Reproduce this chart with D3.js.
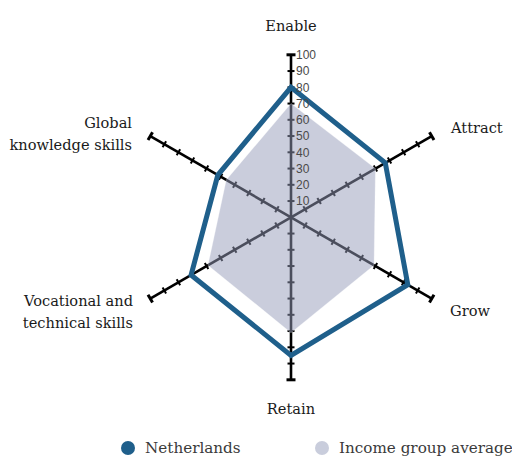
<!DOCTYPE html>
<html>
<head>
<meta charset="utf-8">
<script src="https://cdn.jsdelivr.net/npm/d3@7"></script>
<style>
  html, body { margin: 0; padding: 0; background: #fff; }
  svg { display: block; }
</style>
</head>
<body>
<svg id="chart" width="512" height="457"></svg>
<script>
// Pillars of the radar, clockwise from the top
const axes = ["Enable", "Attract", "Grow", "Retain", "Vocational and technical skills", "Global knowledge skills"];
const netherlands = [80, 67, 83, 85, 71, 52];
const incomeGroupAverage = [70, 60, 59, 71, 59, 46];
const tickValues = [10, 20, 30, 40, 50, 60, 70, 80, 90, 100];
const seriesNames = ["Netherlands", "Income group average"];

const W = 512, H = 457;
const cx = 291, cy = 217.3, R = 162.5;
const blue = "#1f5f8b";
const greyFill = "rgb(150,156,186)";

const svg = d3.select("#chart");
const r = d3.scaleLinear().domain([0, 100]).range([0, R]);
const angle = d3.scaleLinear().domain([0, axes.length]).range([0, 2 * Math.PI]);

function pt(i, v) {
  const a = angle(i) - Math.PI / 2;
  return [cx + r(v) * Math.cos(a), cy + r(v) * Math.sin(a)];
}

// Axis spokes with tick marks
const axisG = svg.append("g");
axes.forEach((name, i) => {
  const a = angle(i) - Math.PI / 2;
  const [x1, y1] = pt(i, 100);
  axisG.append("line")
    .attr("x1", cx).attr("y1", cy).attr("x2", x1).attr("y2", y1)
    .attr("stroke", "#000").attr("stroke-width", 2.6);
  const px = -Math.sin(a), py = Math.cos(a);
  tickValues.forEach(t => {
    const [tx, ty] = pt(i, t);
    const h = t === 100 ? 4.5 : 3.5;
    axisG.append("line")
      .attr("x1", tx - px * h).attr("y1", ty - py * h)
      .attr("x2", tx + px * h).attr("y2", ty + py * h)
      .attr("stroke", "#000").attr("stroke-width", t === 100 ? 3 : 2);
  });
});

const line = d3.line().curve(d3.curveLinearClosed);

// Income group average: translucent area
svg.append("path")
  .attr("d", line(incomeGroupAverage.map((v, i) => pt(i, v))))
  .attr("fill", greyFill).attr("fill-opacity", 0.5)
  .attr("stroke", "#fff").attr("stroke-opacity", 0.25).attr("stroke-width", 1);

// Netherlands: outline
svg.append("path")
  .attr("d", line(netherlands.map((v, i) => pt(i, v))))
  .attr("fill", "none").attr("stroke", blue).attr("stroke-width", 5)
  .attr("stroke-linejoin", "miter");

// Radial scale labels along the top spoke
svg.append("g").selectAll("text").data(tickValues).join("text")
  .attr("x", cx + 5)
  .attr("y", d => cy - r(d))
  .attr("dy", "0.35em")
  .attr("font-family", "Liberation Sans, Arial, sans-serif")
  .attr("font-size", 12)
  .attr("fill", "#4a4a4a")
  .text(d => d);

// Pillar labels
const labelFont = "DejaVu Serif, serif";
const labels = [
  { lines: ["Enable"], x: 291, y: 31, anchor: "middle" },
  { lines: ["Attract"], x: 451, y: 133, anchor: "start" },
  { lines: ["Grow"], x: 450, y: 316, anchor: "start" },
  { lines: ["Retain"], x: 291, y: 414, anchor: "middle" },
  { lines: ["Vocational and", "technical skills"], x: 133, y: 306, anchor: "end" },
  { lines: ["Global", "knowledge skills"], x: 132, y: 128, anchor: "end" }
];
labels.forEach(l => {
  const t = svg.append("text")
    .attr("x", l.x).attr("y", l.y)
    .attr("text-anchor", l.anchor)
    .attr("font-family", labelFont).attr("font-size", 14.6)
    .attr("fill", "#1a1a1a");
  l.lines.forEach((s, k) => {
    t.append("tspan").attr("x", l.x).attr("dy", k === 0 ? 0 : 22).text(s);
  });
});

// Legend
const legend = svg.append("g");
const legendX = [128, 322];
const legendColors = [blue, "#c9cddc"];
seriesNames.forEach((name, i) => {
  legend.append("circle").attr("cx", legendX[i]).attr("cy", 448).attr("r", 7)
    .attr("fill", legendColors[i]);
  legend.append("text").attr("x", legendX[i] + 17).attr("y", 448).attr("dy", "0.35em")
    .attr("font-family", labelFont).attr("font-size", 15.2).attr("fill", "#3a3a3a")
    .text(name);
});
</script>
</body>
</html>
